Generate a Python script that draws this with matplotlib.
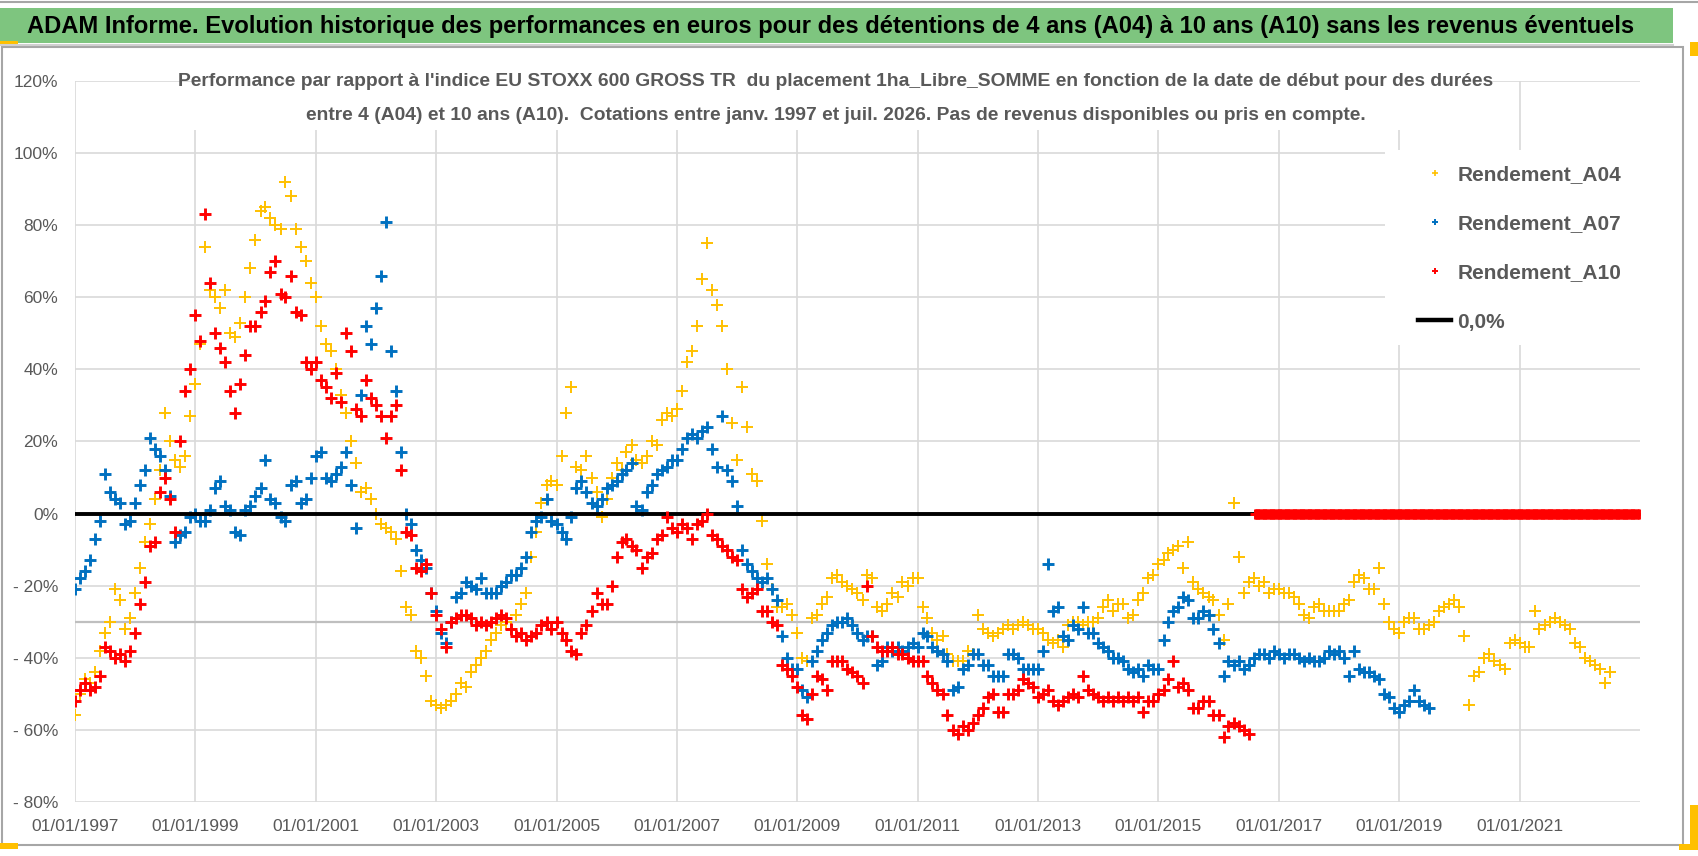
import matplotlib
matplotlib.use("Agg")
import matplotlib.pyplot as plt
from matplotlib import font_manager
from matplotlib.lines import Line2D
from matplotlib.patches import Rectangle
from matplotlib.ticker import FuncFormatter
import pandas as pd


# ------------------------------------------------------------
# Data (monthly readings, in %)
# ------------------------------------------------------------

a04 = [
    -56, -50, -46, -47, -44, -38, -33, -30, -21, -24, -32, -29,   # 1997
    -22, -15, -8, -3, 4, 12, 28, 20, 15, 13, 16, 27,              # 1998
    36, 47, 74, 62, 60, 57, 62, 50, 49, 53, 60, 68,               # 1999
    76, 84, 85, 82, 80, 79, 92, 88, 79, 74, 70, 64,               # 2000
    60, 52, 47, 45, 40, 33, 28, 20, 14, 6, 7, 4,                  # 2001
    0, -3, -4, -5, -7, -16, -26, -28, -38, -40, -45, -52,         # 2002
    -53, -54, -53, -52, -50, -47, -48, -44, -42, -40, -38, -35,   # 2003
    -33, -31, -30, -32, -28, -25, -22, -12, -5, 3, 8, 9,          # 2004
    8, 16, 28, 35, 13, 12, 16, 10, 6, -1, 4, 10,                  # 2005
    14, 12, 17, 19, 15, 14, 16, 20, 19, 26, 28, 27,               # 2006
    29, 34, 42, 45, 52, 65, 75, 62, 58, 52, 40, 25,               # 2007
    15, 35, 24, 11, 9, -2, -14, -21, -26, -26, -25, -28,          # 2008
    -33, -40, -41, -29, -28, -25, -23, -18, -17, -19, -20, -21,   # 2009
    -22, -24, -17, -18, -26, -27, -25, -22, -23, -19, -20, -18,   # 2010
    -18, -26, -29, -33, -35, -34, -39, -41, -41, -41, -38, -39,   # 2011
    -28, -32, -33, -34, -33, -32, -31, -32, -31, -30, -31, -32,   # 2012
    -32, -33, -35, -36, -35, -37, -31, -30, -30, -31, -30, -30,   # 2013
    -29, -26, -24, -27, -25, -25, -29, -28, -24, -22, -18, -17,   # 2014
    -14, -13, -11, -10, -9, -15, -8, -19, -21, -22, -23, -24,     # 2015
    -28, -35, -25, 3, -12, -22, -19, -18, -20, -19, -22, -21,     # 2016
    -21, -22, -22, -23, -25, -28, -29, -26, -25, -27, -27, -27,   # 2017
    -27, -25, -24, -19, -17, -18, -21, -21, -15, -25, -30, -32,   # 2018
    -33, -30, -29, -29, -32, -32, -31, -30, -27, -26, -25, -24,   # 2019
    -26, -34, -53, -45, -44, -40, -39, -41, -42, -43, -36, -35,   # 2020
    -36, -37, -37, -27, -32, -31, -30, -29, -30, -31, -32, -36,   # 2021
    -37, -40, -41, -42, -43, -47, -44,                            # 2022
]

a07 = [
    -21, -18, -16, -13, -7, -2, 11, 6, 4, 3, -3, -2,              # 1997
    3, 8, 12, 21, 18, 16, 12, 5, -8, -6, -5, -1,                  # 1998
    0, -2, -2, 1, 7, 9, 2, 1, -5, -6, 1, 2,                       # 1999
    5, 7, 15, 4, 3, -1, -2, 8, 9, 3, 4, 10,                       # 2000
    16, 17, 10, 9, 11, 13, 17, 8, -4, 33, 52, 47,                 # 2001
    57, 66, 81, 45, 34, 17, 0, -3, -10, -13, -15, -22,            # 2002
    -27, -33, -36, -30, -23, -22, -19, -20, -21, -18, -22, -22,   # 2003
    -22, -20, -19, -17, -17, -15, -12, -5, -2, -1, 4, -2,         # 2004
    -3, -5, -7, -1, 7, 9, 6, 3, 2, 4, 7, 8,                       # 2005
    9, 11, 12, 14, 2, 1, 6, 8, 11, 12, 13, 15,                    # 2006
    15, 18, 21, 22, 21, 23, 24, 18, 13, 27, 12, 9,                # 2007
    2, -10, -14, -16, -18, -19, -18, -21, -24, -34, -40, -43,     # 2008
    -43, -49, -51, -41, -38, -35, -33, -31, -30, -30, -29, -31,   # 2009
    -33, -35, -34, -34, -42, -41, -37, -38, -37, -38, -37, -36,   # 2010
    -37, -33, -34, -37, -38, -39, -41, -49, -48, -43, -42, -39,   # 2011
    -39, -42, -42, -45, -45, -45, -39, -39, -40, -43, -43, -43,   # 2012
    -43, -38, -14, -27, -26, -34, -35, -31, -32, -26, -33, -33,   # 2013
    -36, -37, -38, -40, -40, -41, -43, -44, -43, -45, -42, -43,   # 2014
    -43, -35, -30, -27, -26, -23, -24, -29, -29, -27, -28, -32,   # 2015
    -36, -45, -41, -42, -41, -43, -42, -40, -39, -39, -40, -38,   # 2016
    -39, -40, -39, -39, -40, -41, -40, -41, -41, -40, -38, -39,   # 2017
    -38, -40, -45, -38, -43, -44, -44, -45, -46, -50, -51, -54,   # 2018
    -55, -53, -52, -49, -52, -53, -54,                            # 2019
]

a10 = [
    -52, -49, -47, -49, -48, -45, -37, -38, -40, -39, -41, -38,   # 1997
    -33, -25, -19, -9, -8, 6, 10, 4, -5, 20, 34, 40,              # 1998
    55, 48, 83, 64, 50, 46, 42, 34, 28, 36, 44, 52,               # 1999
    52, 56, 59, 67, 70, 61, 60, 66, 56, 55, 42, 40,               # 2000
    42, 37, 35, 32, 39, 31, 50, 45, 29, 27, 37, 32,               # 2001
    30, 27, 21, 27, 30, 12, -5, -6, -15, -16, -14, -22,           # 2002
    -28, -32, -37, -30, -29, -28, -28, -29, -31, -30, -31, -30,   # 2003
    -29, -28, -29, -32, -34, -33, -35, -34, -33, -31, -30, -32,   # 2004
    -30, -33, -35, -38, -39, -33, -31, -27, -22, -25, -25, -20,   # 2005
    -12, -8, -7, -9, -10, -15, -12, -11, -7, -6, -1, -4,          # 2006
    -5, -3, -4, -7, -3, -2, 0, -6, -7, -9, -10, -12,              # 2007
    -13, -21, -23, -22, -21, -27, -27, -30, -31, -42, -43, -45,   # 2008
    -48, -56, -57, -50, -45, -46, -49, -41, -41, -41, -43, -44,   # 2009
    -45, -47, -20, -34, -37, -38, -38, -37, -39, -39, -40, -41,   # 2010
    -41, -41, -45, -47, -49, -50, -56, -60, -61, -59, -60, -58,   # 2011
    -56, -54, -51, -50, -55, -55, -50, -50, -49, -46, -47, -48,   # 2012
    -51, -50, -49, -52, -53, -52, -51, -50, -51, -45, -49, -50,   # 2013
    -51, -52, -51, -52, -51, -52, -51, -52, -51, -55, -52, -52,   # 2014
    -50, -49, -46, -41, -48, -47, -49, -54, -54, -52, -52, -56,   # 2015
    -56, -62, -59, -58, -59, -60, -61,                            # 2016
]

# after July 2016 the A10 column only holds zeros (weekly)
a10_tail_dates = pd.date_range("2016-08-01", "2022-12-25", freq="W")
a10_tail = [0.0] * len(a10_tail_dates)

a04_dates = pd.date_range("1997-01-01", periods=len(a04), freq="MS")
a07_dates = pd.date_range("1997-01-01", periods=len(a07), freq="MS")
a10_dates = pd.date_range("1997-01-01", periods=len(a10), freq="MS")

tick_years = list(range(1997, 2022, 2))
y_ticks = [-0.8, -0.6, -0.4, -0.2, 0.0, 0.2, 0.4, 0.6, 0.8, 1.0, 1.2]

labels = ["Rendement_A04", "Rendement_A07", "Rendement_A10", "0,0%"]
colors = ["#FFC000", "#0070C0", "#FF0000"]

title = ("ADAM Informe. Evolution historique des performances en euros pour des "
         "détentions de 4 ans (A04) à 10 ans (A10) sans les revenus éventuels")
sub1 = ("Performance par rapport à l'indice EU STOXX 600 GROSS TR  du placement "
        "1ha_Libre_SOMME en fonction de la date de début pour des durées")
sub2 = ("entre 4 (A04) et 10 ans (A10).  Cotations entre janv. 1997 et juil. 2026. "
        "Pas de revenus disponibles ou pris en compte.")


# ------------------------------------------------------------
# Fonts
# ------------------------------------------------------------

available = {f.name for f in font_manager.fontManager.ttflist}
narrow = "DejaVu Sans"
for name in ["Liberation Sans Narrow", "Liberation Sans"]:
    if name in available:
        narrow = name
        break
plt.rcParams["font.family"] = narrow

GREY = "#595959"

# ------------------------------------------------------------
# Figure, pixel helpers
# ------------------------------------------------------------

W, H = 1698, 856
fig = plt.figure(figsize=(W / 100, H / 100), dpi=100)


def fx(x):
    return x / W


def fy(y):
    return 1 - y / H


ax = fig.add_axes([fx(75), fy(802), fx(1640) - fx(75), fy(81) - fy(802)])

ax.plot(a04_dates, [v / 100 for v in a04], ls="none", marker="+", ms=8,
        mew=1.4, color=colors[0], zorder=3)
ax.plot(a07_dates, [v / 100 for v in a07], ls="none", marker="+", ms=8,
        mew=2.1, color=colors[1], zorder=4)
ax.axhline(0, color="black", lw=2.8, zorder=4.5)
ax.plot(a10_dates, [v / 100 for v in a10], ls="none", marker="+", ms=8,
        mew=2.1, color=colors[2], zorder=5)
ax.plot(a10_tail_dates, a10_tail, ls="none", marker="+", ms=7,
        mew=2.1, color=colors[2], zorder=5)

# darker reference line at -30 %
ax.axhline(-0.30, color="#bfbfbf", lw=1.6, zorder=1.2)

ax.set_xlim(pd.Timestamp("1997-01-01"), pd.Timestamp("2023-01-01"))
ax.set_ylim(-0.8, 1.2)
ax.set_xticks([pd.Timestamp(f"{y}-01-01") for y in tick_years])
ax.set_xticklabels([f"01/01/{y}" for y in tick_years])
ax.set_yticks(y_ticks)


def pct(v, pos):
    p = int(round(v * 100))
    return f"{p}%" if p >= 0 else f"- {abs(p)}%"


ax.yaxis.set_major_formatter(FuncFormatter(pct))
ax.tick_params(length=0, labelsize=12.5, labelcolor=GREY)
ax.tick_params(axis="x", pad=12)
ax.tick_params(axis="y", pad=12)
ax.grid(True, color="#d9d9d9", lw=1.2)
ax.set_axisbelow(True)
for s in ax.spines.values():
    s.set_visible(False)

# ------------------------------------------------------------
# Frame, banner, masks
# ------------------------------------------------------------

fig.patches.append(Rectangle((fx(0), fy(43)), fx(1673), 35 / H,
                             transform=fig.transFigure, facecolor="#7ec57f",
                             edgecolor="none", zorder=0.5))
fig.patches.append(Rectangle((fx(1.5), fy(845)), fx(1681), 798 / H,
                             transform=fig.transFigure, facecolor="none",
                             edgecolor="#a6a6a6", lw=1.5, zorder=0.6))
fig.lines.append(Line2D([0, 1], [fy(1.5), fy(1.5)], transform=fig.transFigure,
                        color="#a6a6a6", lw=1.5))
fig.lines.append(Line2D([0, fx(1673)], [fy(45), fy(45)], transform=fig.transFigure,
                        color="#d0d0d0", lw=1.5))
for (x0, y0, w, h) in [(0, 41, 18, 4), (0, 843, 18, 6), (1690, 42, 8, 14),
                       (1690, 805, 8, 45), (1679, 844, 19, 6)]:
    fig.patches.append(Rectangle((fx(x0), fy(y0 + h)), w / W, h / H,
                                 transform=fig.transFigure, facecolor="#ffc000",
                                 edgecolor="none", zorder=0.7))

# white boxes behind subtitle and legend
fig.patches.append(Rectangle((fx(192), fy(130)), fx(1485 - 192), 75 / H,
                             transform=fig.transFigure, facecolor="white",
                             edgecolor="none", zorder=1))
fig.patches.append(Rectangle((fx(1385), fy(345)), fx(1642 - 1385), 195 / H,
                             transform=fig.transFigure, facecolor="white",
                             edgecolor="none", zorder=1))

# ------------------------------------------------------------
# Texts
# ------------------------------------------------------------

t_title = fig.text(fx(27), fy(26), title, ha="left", va="center",
                   fontsize=22, fontweight="bold", color="black", zorder=3)
t_sub1 = fig.text(fx(836), fy(82), sub1, ha="center", va="center",
                  fontsize=15, fontweight="bold", color=GREY, zorder=3)
t_sub2 = fig.text(fx(836), fy(116), sub2, ha="center", va="center",
                  fontsize=15, fontweight="bold", color=GREY, zorder=3)

fig.canvas.draw()
renderer = fig.canvas.get_renderer()


def fit(t, target):
    w = t.get_window_extent(renderer).width
    t.set_fontsize(t.get_fontsize() * target / w)


fit(t_title, 1608)
fit(t_sub2, 1063)
t_sub1.set_fontsize(t_sub2.get_fontsize())

handles = [
    Line2D([], [], ls="none", marker="+", ms=5, mew=1.2, color=colors[0]),
    Line2D([], [], ls="none", marker="+", ms=5, mew=1.4, color=colors[1]),
    Line2D([], [], ls="none", marker="+", ms=5, mew=1.4, color=colors[2]),
    Line2D([], [], color="black", lw=3.2),
]
leg = fig.legend(handles, labels, loc="upper left",
                 bbox_to_anchor=(fx(1418), fy(165)), frameon=False,
                 prop={"size": 15, "weight": "bold"}, labelcolor=GREY,
                 labelspacing=1.45, handlelength=1.6, handletextpad=0.28,
                 borderpad=0, borderaxespad=0)
leg.set_zorder(3)

fig.savefig("out.png", dpi=100)
